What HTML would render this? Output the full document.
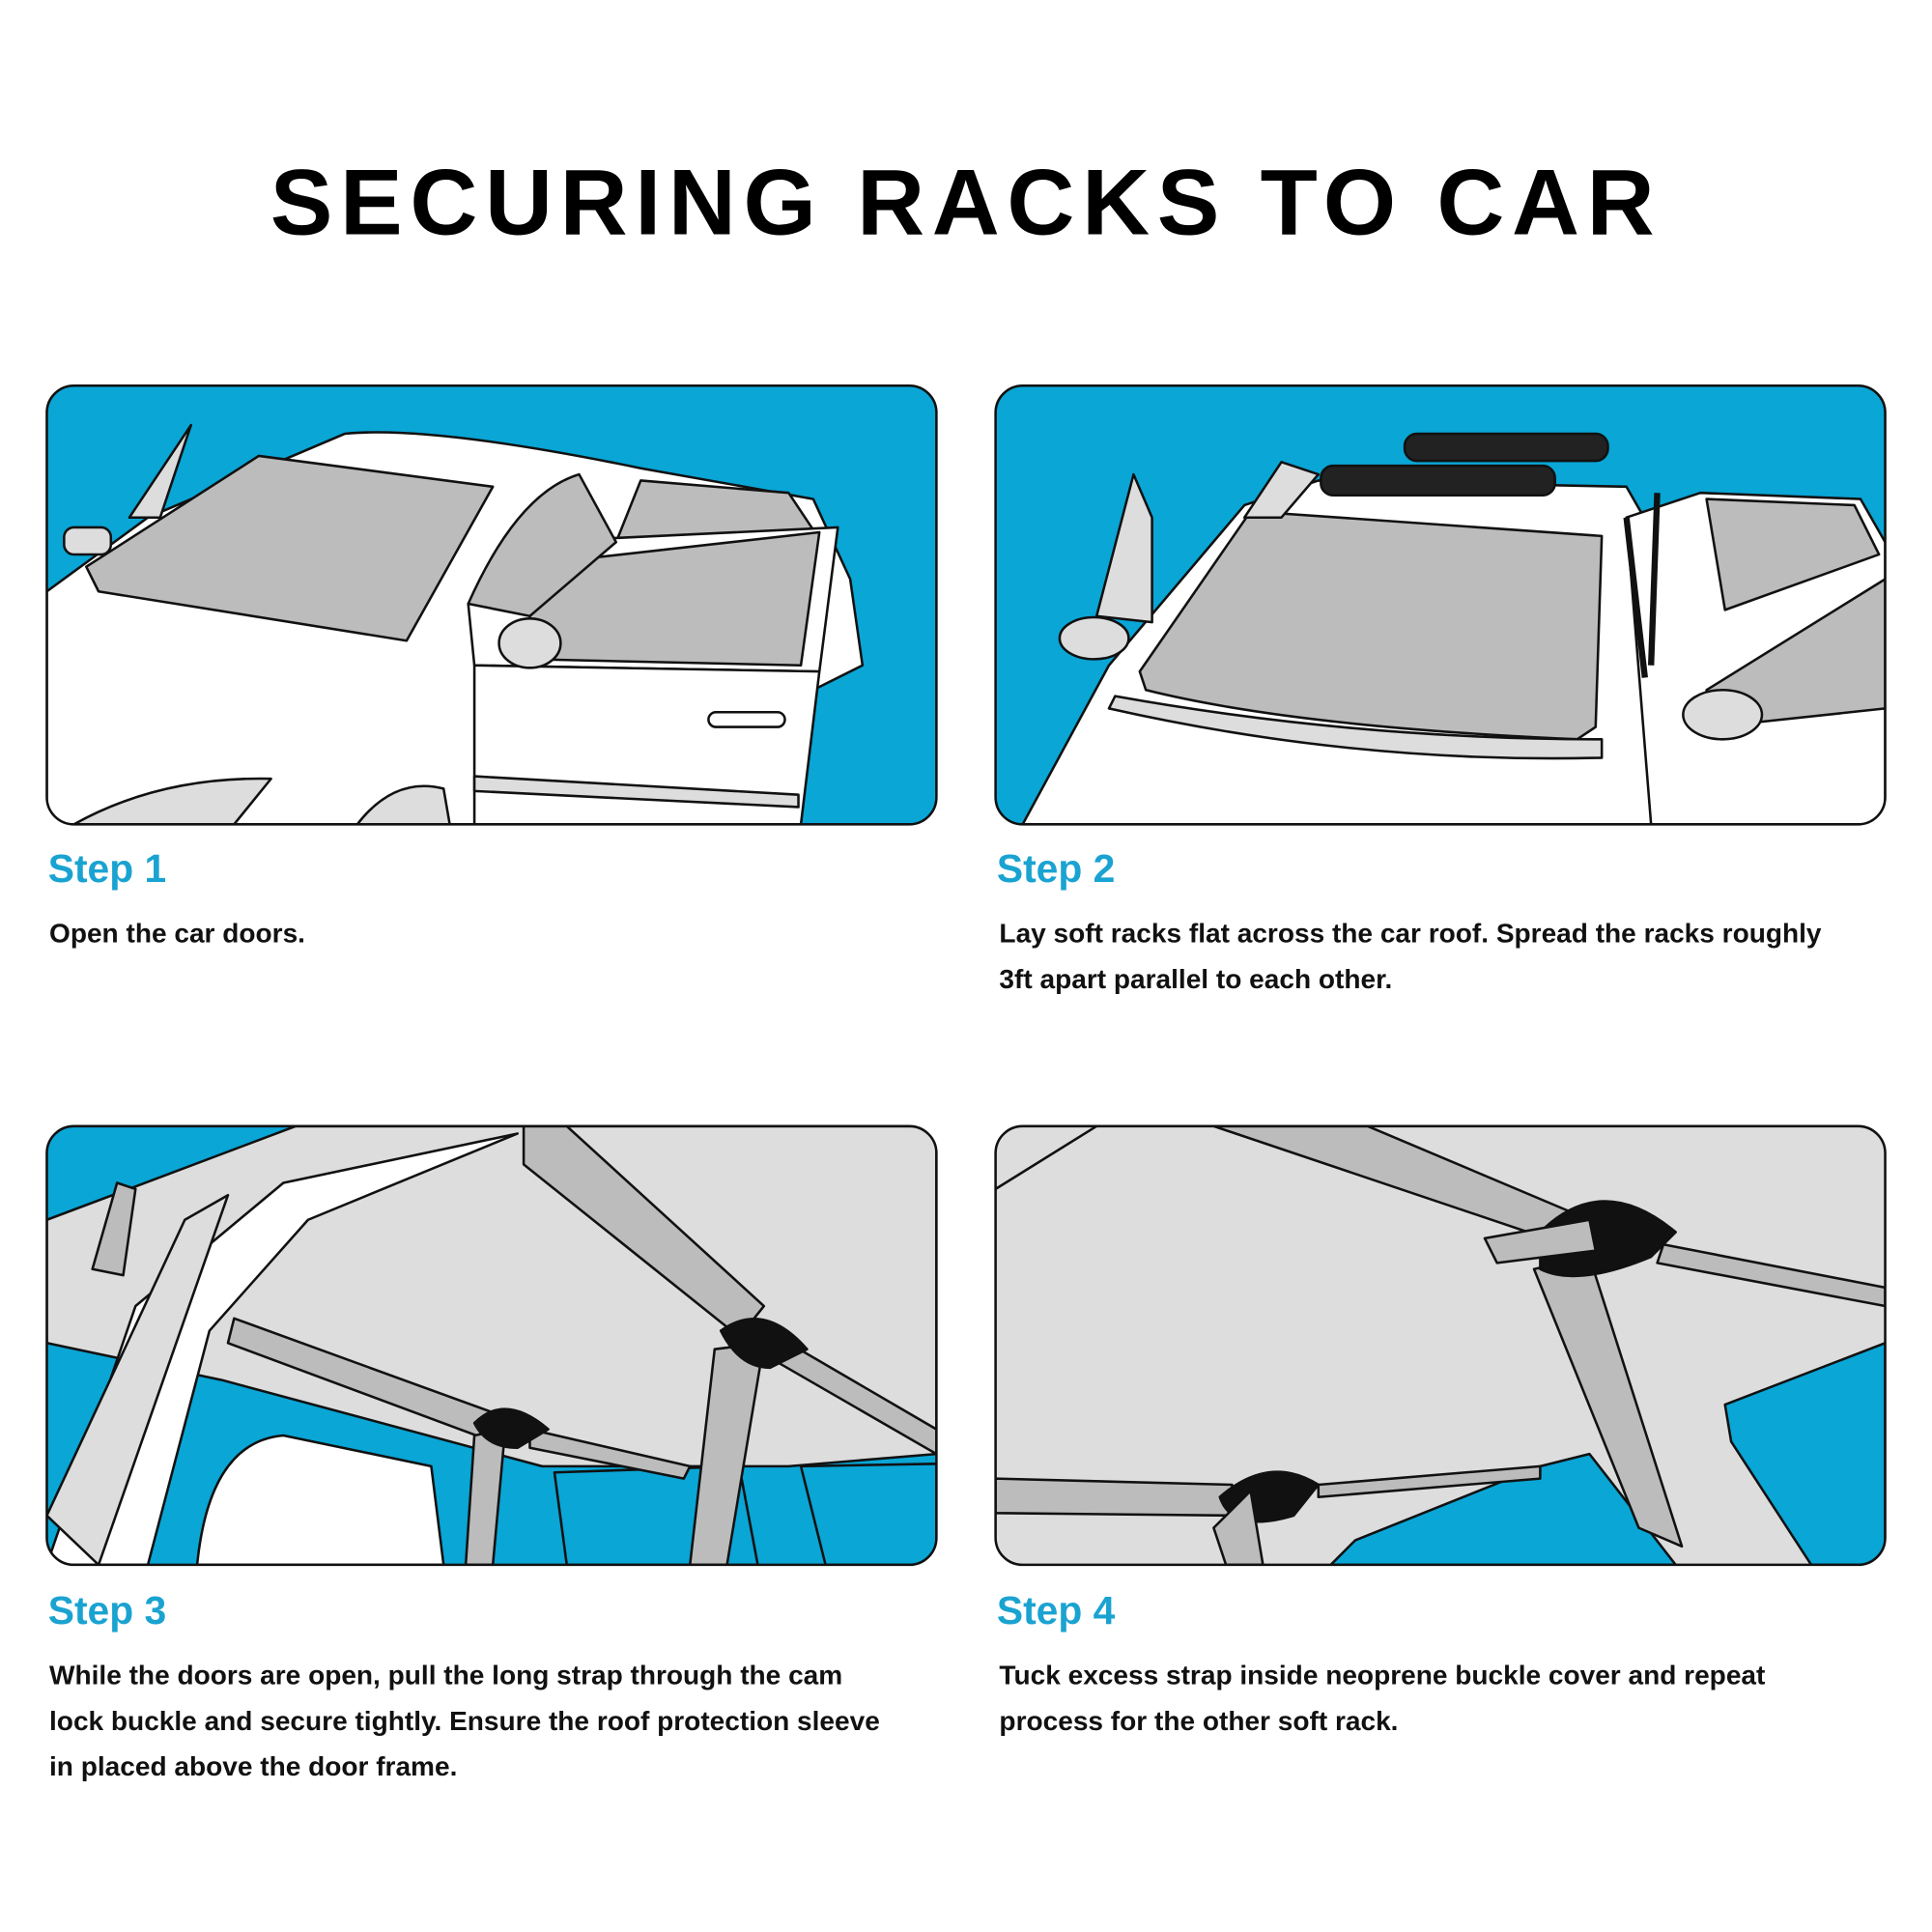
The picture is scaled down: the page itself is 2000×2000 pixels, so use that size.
<!DOCTYPE html>
<html><head><meta charset="utf-8"><style>
html,body{margin:0;padding:0;background:#fff}
svg{display:block}
text{font-family:"Liberation Sans",sans-serif}
</style></head><body>
<svg width="2000" height="2000" viewBox="0 0 1568 1568" xmlns="http://www.w3.org/2000/svg">
<defs>
<clipPath id="c1"><rect x="38" y="313" width="722" height="356" rx="22"/></clipPath>
<clipPath id="c2"><rect x="808" y="313" width="722" height="356" rx="22"/></clipPath>
<clipPath id="c3"><rect x="38" y="914" width="722" height="356" rx="22"/></clipPath>
<clipPath id="c4"><rect x="808" y="914" width="722" height="356" rx="22"/></clipPath>
</defs>
<text x="784" y="190" text-anchor="middle" font-size="76" font-weight="bold" letter-spacing="6" fill="#000">SECURING RACKS TO CAR</text>

<g stroke="#111" stroke-width="2" stroke-linejoin="round">
<g clip-path="url(#c1)">
<rect x="38" y="313" width="722" height="356" fill="#09a6d6" stroke="none"/>
<path d="M38 480 L120 420 L280 352 Q350 345 520 380 L660 405 L690 470 L700 540 L660 560 L650 669 L38 669Z" fill="#fff"/>
<path d="M70 460 L210 370 L400 395 L330 520 L80 480Z" fill="#bcbcbc"/>
<path d="M520 390 L640 400 L660 430 L500 440Z" fill="#bcbcbc"/>
<path d="M380 490 L430 440 L680 428 L665 545 L385 540Z" fill="#fff"/>
<path d="M430 500 L460 455 L665 432 L650 540 L430 535Z" fill="#bcbcbc"/>
<path d="M380 490 Q420 400 470 385 L500 440 L430 500Z" fill="#bcbcbc"/>
<path d="M385 540 L665 545 L650 669 L385 669Z" fill="#fff"/>
<path d="M385 630 L648 645 L648 655 L385 642Z" fill="#ddd"/>
<path d="M60 669 Q130 630 220 632 L190 669Z" fill="#ddd"/>
<path d="M290 669 Q320 630 360 640 L365 669Z" fill="#ddd"/>
<path d="M105 420 L155 345 L130 420Z" fill="#ddd"/>
<rect x="52" y="428" width="38" height="22" rx="8" fill="#ddd"/>
<ellipse cx="430" cy="522" rx="25" ry="20" fill="#ddd"/>
<rect x="575" y="578" width="62" height="12" rx="6" fill="#fff"/>
</g>
<rect x="38" y="313" width="722" height="356" rx="22" fill="none"/>

<g clip-path="url(#c2)">
<rect x="808" y="313" width="722" height="356" fill="#09a6d6" stroke="none"/>
<path d="M830 669 L900 540 L1010 410 L1070 390 L1320 395 L1340 430 L1350 669Z" fill="#fff"/>
<path d="M1320 420 L1380 400 L1510 405 L1530 440 L1530 669 L1340 669Z" fill="#fff"/>
<path d="M1385 405 L1505 410 L1525 450 L1400 495Z" fill="#bcbcbc"/>
<path d="M1385 560 L1530 470 L1530 575 L1390 590Z" fill="#bcbcbc"/>
<path d="M925 545 L1015 415 L1300 435 L1295 590 L1280 600 Q1050 590 930 560Z" fill="#bcbcbc"/>
<path d="M900 575 Q1100 620 1300 615 L1300 600 Q1100 600 905 565Z" fill="#ddd"/>
<path d="M890 500 L920 385 L935 420 L935 505Z" fill="#ddd"/>
<ellipse cx="888" cy="518" rx="28" ry="17" fill="#ddd"/>
<ellipse cx="1398" cy="580" rx="32" ry="20" fill="#ddd"/>
<path d="M1010 420 L1040 375 L1070 385 L1040 420Z" fill="#ddd"/>
<rect x="1140" y="352" width="165" height="22" rx="10" fill="#222"/>
<rect x="1072" y="378" width="190" height="24" rx="10" fill="#222"/>
<path d="M1320 420 L1335 550 M1345 400 L1340 540" fill="none" stroke-width="5"/>
</g>
<rect x="808" y="313" width="722" height="356" rx="22" fill="none"/>

<g clip-path="url(#c3)">
<rect x="38" y="914" width="722" height="356" fill="#09a6d6" stroke="none"/>
<path d="M38 990 L240 914 L760 914 L760 1180 L640 1190 L560 1190 L440 1190 L180 1120 L38 1090Z" fill="#ddd"/>
<path d="M38 1270 L110 1060 L230 960 L420 920 L250 990 L170 1080 L120 1270Z" fill="#fff"/>
<path d="M38 1230 L150 990 L185 970 L80 1270Z" fill="#ddd"/>
<path d="M160 1270 Q170 1170 230 1165 L350 1190 L360 1270Z" fill="#fff"/>
<path d="M450 1195 L600 1190 L615 1270 L460 1270Z" fill="#09a6d6"/>
<path d="M650 1190 L760 1188 L760 1270 L670 1270Z" fill="#09a6d6"/>
<path d="M190 1070 L410 1150 L400 1170 L185 1090Z" fill="#bcbcbc"/>
<path d="M425 914 L460 914 L620 1060 L600 1085 L425 945Z" fill="#bcbcbc"/>
<path d="M640 1090 L760 1160 L760 1180 L630 1105Z" fill="#bcbcbc"/>
<path d="M430 1160 L560 1190 L555 1200 L430 1175Z" fill="#bcbcbc"/>
<path d="M580 1095 L620 1090 L590 1270 L560 1270Z" fill="#bcbcbc"/>
<path d="M385 1165 L410 1160 L400 1270 L378 1270Z" fill="#bcbcbc"/>
<path d="M585 1080 Q620 1055 655 1095 L625 1110 Q600 1110 585 1080Z" fill="#111"/>
<path d="M385 1155 Q410 1130 445 1160 L420 1175 Q395 1175 385 1155Z" fill="#111"/>
<path d="M75 1030 L95 960 L110 965 L100 1035Z" fill="#bcbcbc"/>
</g>
<rect x="38" y="914" width="722" height="356" rx="22" fill="none"/>

<g clip-path="url(#c4)">
<rect x="808" y="914" width="722" height="356" fill="#ddd" stroke="none"/>
<path d="M1100 1250 L1250 1190 L1290 1180 L1360 1270 L1080 1270Z" fill="#09a6d6"/>
<path d="M1400 1140 L1530 1090 L1530 1270 L1470 1270 L1405 1170Z" fill="#09a6d6"/>
<path d="M985 914 L1110 914 L1290 990 L1270 1010Z" fill="#bcbcbc"/>
<path d="M1350 1010 L1530 1045 L1530 1060 L1345 1025Z" fill="#bcbcbc"/>
<path d="M808 1200 L1000 1205 L1000 1230 L808 1228Z" fill="#bcbcbc"/>
<path d="M1070 1205 L1250 1190 L1250 1200 L1070 1215Z" fill="#bcbcbc"/>
<path d="M1245 1030 L1290 1020 L1365 1255 L1330 1240Z" fill="#bcbcbc"/>
<path d="M1250 1000 Q1300 950 1360 1000 L1340 1020 Q1280 1045 1250 1030Z" fill="#111"/>
<path d="M990 1215 Q1030 1180 1070 1205 L1050 1230 Q1000 1245 990 1215Z" fill="#111"/>
<path d="M1205 1005 L1290 990 L1295 1015 L1215 1025Z" fill="#bcbcbc"/>
<path d="M985 1240 L1015 1210 L1025 1270 L995 1270Z" fill="#bcbcbc"/>
<path d="M808 965 L890 914" fill="none"/>
</g>
<rect x="808" y="914" width="722" height="356" rx="22" fill="none"/>
</g>

<g fill="#1aa3d1" font-weight="bold" font-size="32">
<text x="39" y="716">Step 1</text>
<text x="809" y="716">Step 2</text>
<text x="39" y="1318">Step 3</text>
<text x="809" y="1318">Step 4</text>
</g>
<g fill="#111" font-size="22" font-weight="bold">
<text x="40" y="765">Open the car doors.</text>
<text x="811" y="765">Lay soft racks flat across the car roof. Spread the racks roughly</text>
<text x="811" y="802">3ft apart parallel to each other.</text>
<text x="40" y="1367">While the doors are open, pull the long strap through the cam</text>
<text x="40" y="1404">lock buckle and secure tightly. Ensure the roof protection sleeve</text>
<text x="40" y="1441">in placed above the door frame.</text>
<text x="811" y="1367">Tuck excess strap inside neoprene buckle cover and repeat</text>
<text x="811" y="1404">process for the other soft rack.</text>
</g>
</svg>
</body></html>
